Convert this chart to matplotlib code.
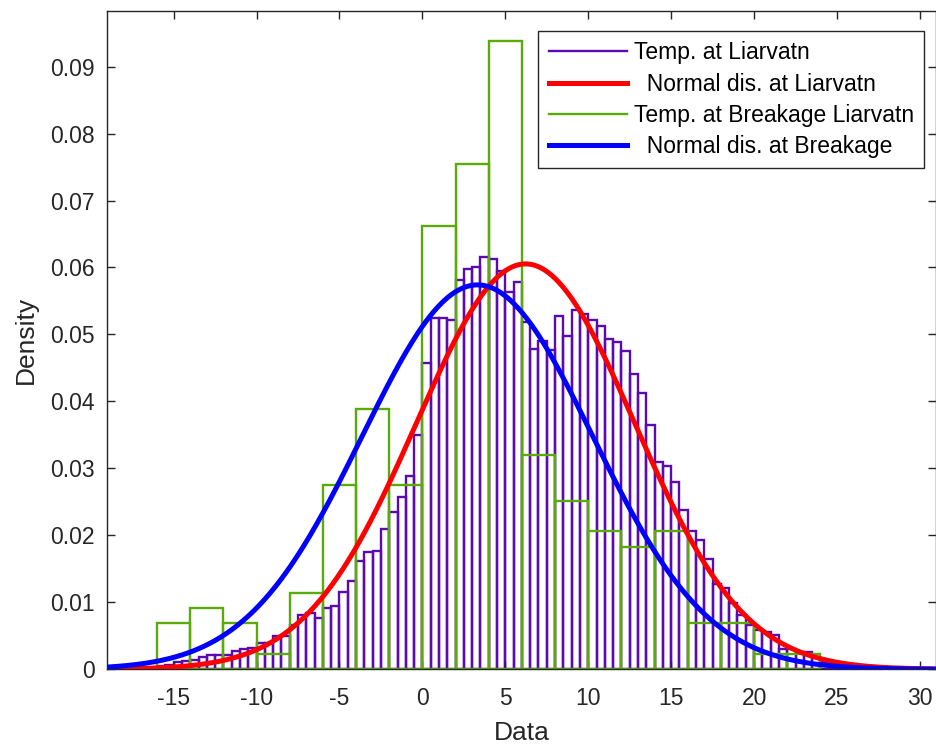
import numpy as np
import matplotlib
matplotlib.use("Agg")
import matplotlib.pyplot as plt
from matplotlib.lines import Line2D

plt.rcParams['font.family'] = ['Liberation Sans', 'DejaVu Sans']
plt.rcParams['axes.unicode_minus'] = False

# ---- data ----
# Temperature at Liarvatn: density histogram, bin width 0.5 starting at -16.5
temp_bin_start = -16.5
temp_bin_width = 0.5
temp_density = [
    0.0002, 0.0005, 0.0007, 0.0011, 0.0012, 0.0014, 0.0019, 0.0022, 0.0022, 0.0021,
    0.0027, 0.0030, 0.0032, 0.0039, 0.0040, 0.0050, 0.0050, 0.0066, 0.0081, 0.0084,
    0.0076, 0.0091, 0.0095, 0.0115, 0.0132, 0.0161, 0.0175, 0.0176, 0.0209, 0.0235,
    0.0258, 0.0288, 0.0350, 0.0458, 0.0525, 0.0524, 0.0521, 0.0582, 0.0597, 0.0600,
    0.0616, 0.0613, 0.0595, 0.0564, 0.0579, 0.0518, 0.0479, 0.0490, 0.0477, 0.0527,
    0.0498, 0.0537, 0.0531, 0.0521, 0.0513, 0.0493, 0.0489, 0.0476, 0.0441, 0.0412,
    0.0365, 0.0309, 0.0303, 0.0280, 0.0238, 0.0207, 0.0193, 0.0164, 0.0127, 0.0121,
    0.0099, 0.0081, 0.0066, 0.0059, 0.0056, 0.0051, 0.0031, 0.0030, 0.0026, 0.0026,
    0.0019, 0.0011, 0.0008, 0.0005, 0.0004, 0.0002, 0.0002, 0.0001, 0.0001,
]

# Temperature at breakage: density histogram, bin width 2 starting at -16
brk_bin_start = -16
brk_bin_width = 2
brk_density = [
    0.0069, 0.0092, 0.0069, 0.0023, 0.0114, 0.0275, 0.0389, 0.0275, 0.0662, 0.0754,
    0.0938, 0.0320, 0.0252, 0.0207, 0.0183, 0.0207, 0.0069, 0.0069, 0.0023, 0.0023,
]

# Fitted normal distributions (mean, std)
liar_mu, liar_sigma = 6.22, 6.59
brk_mu, brk_sigma = 3.32, 6.95

xlim = (-19, 31)
ylim = (0, 0.0983)
xticks = [-15, -10, -5, 0, 5, 10, 15, 20, 25, 30]
yticks = [0, 0.01, 0.02, 0.03, 0.04, 0.05, 0.06, 0.07, 0.08, 0.09]
ytick_labels = ['0', '0.01', '0.02', '0.03', '0.04', '0.05', '0.06', '0.07', '0.08', '0.09']

labels = ['Temp. at Liarvatn', '  Normal dis. at Liarvatn',
          'Temp. at Breakage Liarvatn', '  Normal dis. at Breakage']

purple = '#5A0AB0'
green = '#5AAA0A'
red = '#FF0000'
blue = '#0000FF'

# ---- figure ----
W, H = 937, 751
fig = plt.figure(figsize=(W / 100, H / 100), dpi=100)
ax_l, ax_r, ax_t, ax_b = 107.3, 936.5, 11, 669.3
ax = fig.add_axes([ax_l / W, (H - ax_b) / H, (ax_r - ax_l) / W, (ax_b - ax_t) / H])

t_left = temp_bin_start + temp_bin_width * np.arange(len(temp_density))
ax.bar(t_left, temp_density, width=temp_bin_width, align='edge', fill=False,
       edgecolor=purple, linewidth=1.7, zorder=1)

b_left = brk_bin_start + brk_bin_width * np.arange(len(brk_density))
ax.bar(b_left, brk_density, width=brk_bin_width, align='edge', fill=False,
       edgecolor=green, linewidth=1.7, zorder=2)

xs = np.linspace(xlim[0], xlim[1], 600)
def npdf(x, mu, s):
    return np.exp(-0.5 * ((x - mu) / s) ** 2) / (s * np.sqrt(2 * np.pi))

ax.plot(xs, npdf(xs, liar_mu, liar_sigma), color=red, lw=3.6, zorder=3,
        solid_capstyle='butt')
ax.plot(xs, npdf(xs, brk_mu, brk_sigma), color=blue, lw=3.6, zorder=4,
        solid_capstyle='butt')

ax.set_xlim(*xlim)
ax.set_ylim(*ylim)
ax.set_xticks(xticks)
ax.set_yticks(yticks)
ax.set_yticklabels(ytick_labels)
ax.tick_params(direction='in', length=6, width=1.0, labelsize=16.5,
               colors='#262626', top=True, right=True, pad=9)
ax.tick_params(axis='x', pad=13)
for s in ax.spines.values():
    s.set_color('#262626')
    s.set_linewidth(1.0)

ax.set_xlabel('Data', fontsize=19, color='#262626', labelpad=8)
ax.set_ylabel('Density', fontsize=19, color='#262626', labelpad=9)

handles = [Line2D([], [], color=purple, lw=1.7),
           Line2D([], [], color=red, lw=3.6),
           Line2D([], [], color=green, lw=1.7),
           Line2D([], [], color=blue, lw=3.6)]
leg = ax.legend(handles, labels, loc='upper right',
                bbox_to_anchor=(924 / W, (H - 31) / H), bbox_transform=fig.transFigure,
                borderaxespad=0, fancybox=False, framealpha=1, edgecolor='#262626',
                fontsize=16.5, handlelength=3.4, handletextpad=0.3,
                labelspacing=0.36, borderpad=0.45)
leg.get_frame().set_linewidth(1.0)

fig.savefig('out.png', dpi=100)
